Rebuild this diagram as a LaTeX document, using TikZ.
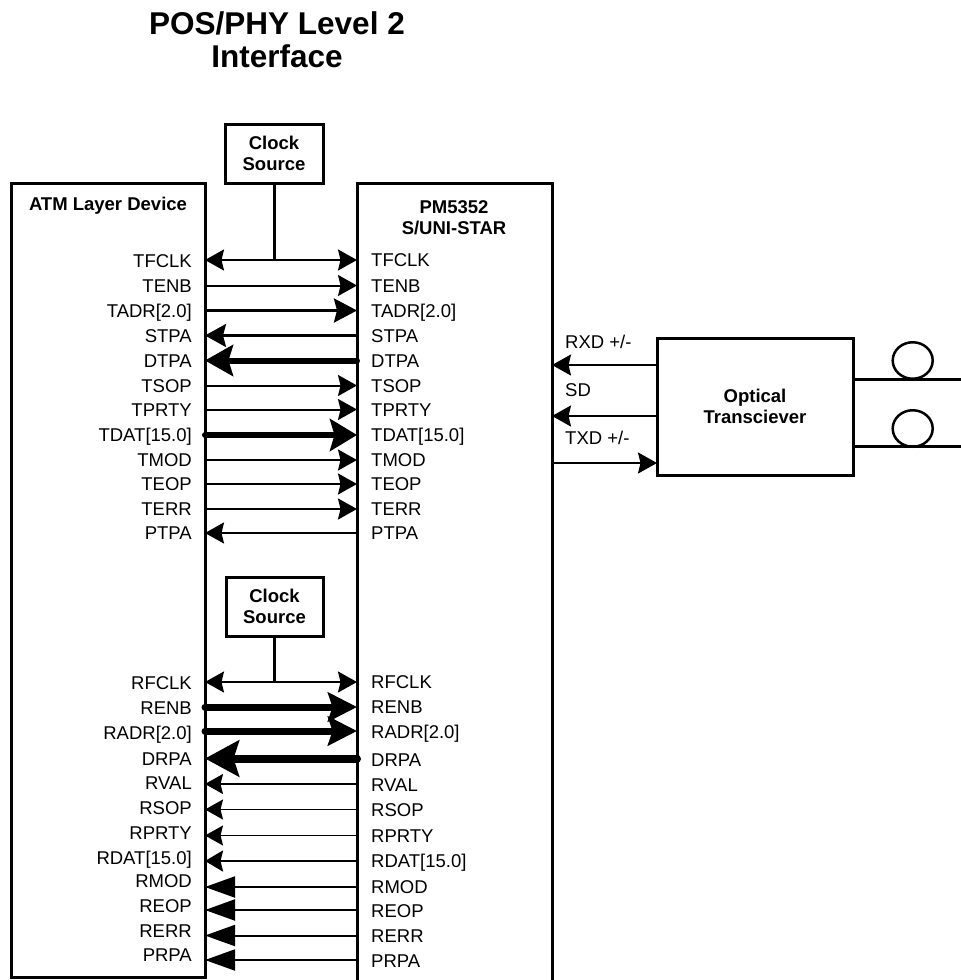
\documentclass[tikz,border=0pt]{standalone}
\usepackage{fontspec}
\setmainfont{Liberation Sans}
\usetikzlibrary{arrows.meta,shapes.geometric}

\begin{document}
\begin{tikzpicture}[x=1pt,y=-1pt, line join=miter,
  txt/.style={font=\fontsize{18.5}{21}\selectfont, inner sep=0pt, text height=13.3pt, text depth=0pt},
  btxt/.style={font=\fontsize{18.5}{21}\selectfont\bfseries, inner sep=0pt, align=center},
  box/.style={draw, line width=3pt, inner sep=0pt, outer sep=0pt},
  sigB/.style={line width=2pt, {Stealth[length=19pt,width=21pt,inset=2.5pt]}-{Stealth[length=19pt,width=21pt,inset=2.5pt]}},
  sigR/.style={line width=2pt, -{Stealth[length=19pt,width=21pt,inset=2.5pt]}},
  sigL/.style={line width=2pt, {Stealth[length=19pt,width=21pt,inset=2.5pt]}-},
  medR/.style={line width=3pt, -{Stealth[length=23pt,width=24pt,inset=3pt]}},
  medL/.style={line width=2.5pt, {Stealth[length=21pt,width=23pt,inset=3pt]}-},
  fatL/.style={line width=6pt, line cap=round, {Stealth[length=28pt,width=31pt,inset=4.5pt]}-},
  fatR/.style={line width=6pt, line cap=round, -{Stealth[length=27pt,width=32pt,inset=4.5pt]}},
  fatRR/.style={line width=7pt, line cap=round, -{Stealth[length=29pt,width=29pt,inset=4.5pt]}},
  fatLL/.style={line width=8pt, line cap=round, {Stealth[length=34pt,width=36pt,inset=5.5pt]}-},
  hairL/.style={line width=1.5pt, {Stealth[length=18pt,width=20pt,inset=2.5pt]}-},
  rdatL/.style={line width=2.5pt, {Stealth[length=18pt,width=21pt,inset=2.5pt]}-},
  bluntL/.style={line width=2pt, {Triangle[length=30pt,width=21pt]}-},
  fiber/.style={line width=3pt},
  loop/.style={draw, ellipse, line width=2.5pt, inner sep=0pt, minimum width=40pt, minimum height=36.5pt}
]
\useasboundingbox (0,0) rectangle (961,980);

% title
\node[btxt, font=\fontsize{31.5}{33}\selectfont\bfseries] (title) at (277,39.5) {POS/PHY Level 2\\Interface};

% main boxes
\node[box, minimum width=194pt, minimum height=794pt] (atm) at (108,580) {};
\node[inner sep=0pt, outer sep=0pt, minimum width=195pt, minimum height=802pt] (pm) at (454.5,584) {};
\draw[line width=3pt] (pm.south west) -- (pm.north west) -- (pm.north east) -- (pm.south east);
\node[btxt] (atmname) at (108,206) {ATM Layer Device};
\node[btxt] (pmname) at (454,217.5) {PM5352\\S/UNI-STAR};

% clock sources
\node[box, btxt, minimum width=98pt, minimum height=59pt] (clkA) at (274,153.5) {Clock\\Source};
\node[box, btxt, minimum width=97pt, minimum height=59pt] (clkB) at (274.5,606.5) {Clock\\Source};

% signals
\foreach \n/\t/\yl/\ya/\yr/\st in {
  TFCLK/TFCLK/261/260/260/sigB,
  TENB/TENB/286/285.5/285.5/sigR,
  TADR/{TADR[2.0]}/311/310.5/310.5/medR,
  STPA/STPA/336/335.5/335.5/medL,
  DTPA/DTPA/361/360.5/360.5/fatL,
  TSOP/TSOP/385.5/385.5/385.5/sigR,
  TPRTY/TPRTY/409.5/409.5/409.5/sigR,
  TDAT/{TDAT[15.0]}/435/435/435/fatR,
  TMOD/TMOD/460/460/460/sigR,
  TEOP/TEOP/484/484/484/sigR,
  TERR/TERR/509/509/509/sigR,
  PTPA/PTPA/533/533/533/sigL,
  RFCLK/RFCLK/683/682/682/sigB,
  RENB/RENB/708/707/707/fatRR,
  RADR/{RADR[2.0]}/733/731/732/fatRR,
  DRPA/DRPA/759/758.5/760/fatLL,
  RVAL/RVAL/783/784/785/hairL,
  RSOP/RSOP/808/809.5/810/hairL,
  RPRTY/RPRTY/833/835.5/836/hairL,
  RDAT/{RDAT[15.0]}/858/861/861/rdatL,
  RMOD/RMOD/881/887/887/bluntL,
  REOP/REOP/906/910/911/bluntL,
  RERR/RERR/931/935.5/936/bluntL,
  PRPA/PRPA/955/960/961/bluntL}
{
  \node[txt, anchor=east] (L\n) at (192,\yl) {\t};
  \node[txt, anchor=west] (R\n) at (371,\yr) {\t};
  \coordinate (c\n) at (280,\ya);
  \draw[\st] (atm.east |- c\n) -- (pm.west |- c\n);
}

% clock feed lines
\draw[line width=3pt] (clkA.south) -- (clkA.south |- cTFCLK);
\draw[line width=3pt] (clkB.south) -- (clkB.south |- cRFCLK);

% optical transceiver
\node[box, btxt, minimum width=196pt, minimum height=137pt] (opt) at (755,406.5) {Optical\\Transciever};
\coordinate (cRXD) at (600,365);
\coordinate (cSD) at (600,416);
\coordinate (cTXD) at (600,463);
\draw[sigR] (opt.west |- cRXD) -- (pm.east |- cRXD);
\draw[sigR] (opt.west |- cSD) -- (pm.east |- cSD);
\draw[sigR] (pm.east |- cTXD) -- (opt.west |- cTXD);
\node[txt, anchor=west] (lRXD) at (565,342) {RXD +/-};
\node[txt, anchor=west] (lSD) at (565,390) {SD};
\node[txt, anchor=west] (lTXD) at (565,438) {TXD +/-};

% fibres
\coordinate (f1) at (961,379.3);
\coordinate (f2) at (961,446.7);
\draw[fiber] (opt.east |- f1) -- (f1);
\draw[fiber] (opt.east |- f2) -- (f2);
\node[loop] (loopA) at (912.7,360.5) {};
\node[loop] (loopB) at (912.7,428.5) {};
\end{tikzpicture}
\end{document}
